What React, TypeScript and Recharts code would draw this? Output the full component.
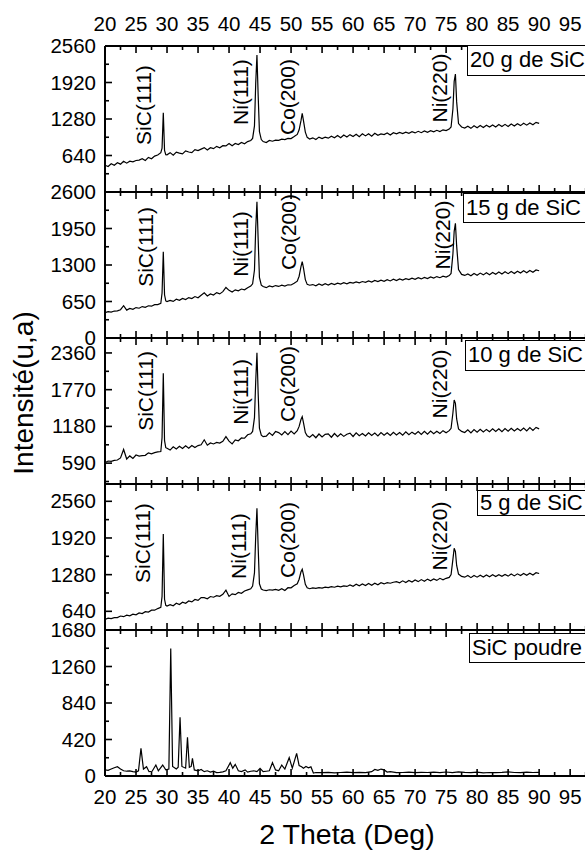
import React from 'react';
import { LineChart, Line, XAxis, YAxis, ReferenceDot } from 'recharts';

// 2-theta grid shared by the four coated samples (finer around the peaks)
const coatAngles = [
  20, 20.5, 21, 21.5, 22, 22.5, 23, 23.5, 24, 24.5, 25, 25.5, 26, 26.5, 27, 27.5, 28, 28.5,
  29, 29.2, 29.4, 29.6, 29.8,
  30, 30.5, 31, 31.5, 32, 32.5, 33, 33.5, 34, 34.5, 35, 35.5, 36, 36.5, 37, 37.5, 38, 38.5, 39, 39.5,
  40, 40.5, 41, 41.5, 42, 42.5, 43, 43.5,
  43.8, 44.1, 44.3, 44.5, 44.7, 44.9, 45.2, 45.5,
  46, 46.5, 47, 47.5, 48, 48.5, 49, 49.5, 50, 50.5, 51,
  51.3, 51.6, 51.8, 52, 52.3, 52.6,
  53, 53.5, 54, 54.5, 55, 55.5, 56, 56.5, 57, 57.5, 58, 58.5, 59, 59.5, 60, 60.5, 61, 61.5, 62, 62.5,
  63, 63.5, 64, 64.5, 65, 65.5, 66, 66.5, 67, 67.5, 68, 68.5, 69, 69.5, 70, 70.5, 71, 71.5, 72, 72.5,
  73, 73.5, 74, 74.5, 75, 75.5,
  75.8, 76.1, 76.3, 76.5, 76.7, 77, 77.5,
  78, 78.5, 79, 79.5, 80, 80.5, 81, 81.5, 82, 82.5, 83, 83.5, 84, 84.5, 85, 85.5, 86, 86.5, 87, 87.5,
  88, 88.5, 89, 89.5, 90,
];

const sic20 = [
  470, 448, 496, 470, 512, 488, 540, 506, 540, 530, 552, 560, 584, 552, 606, 582, 630, 648,
  688, 770, 1390, 730, 655,
  652, 690, 644, 700, 682, 668, 720, 702, 690, 744, 726, 752, 778, 736, 776, 760, 800, 776, 812, 808,
  852, 812, 850, 832, 868, 846, 884, 904,
  940, 1160, 1900, 2401, 1680, 1060, 920, 884,
  866, 904, 890, 910, 906, 926, 920, 940, 936, 972, 1010,
  1090, 1250, 1380, 1250, 1050, 958,
  930, 950, 920, 962, 936, 960, 944, 978, 952, 990, 950, 998, 964, 1006, 972, 1012, 970, 1020, 984, 1022,
  980, 1030, 994, 1018, 1008, 1034, 1000, 1040, 1020, 1046, 1024, 1050, 1030, 1058, 1036, 1064, 1040, 1070, 1048, 1074,
  1054, 1082, 1060, 1090, 1076, 1104,
  1140, 1460, 1940, 2068, 1580, 1200, 1140,
  1120, 1152, 1116, 1160, 1128, 1166, 1132, 1170, 1140, 1176, 1140, 1182, 1148, 1186, 1150, 1192, 1156, 1198, 1164, 1204,
  1172, 1210, 1180, 1222, 1204,
];

const sic15 = [
  450, 470, 462, 480, 484, 504, 575, 496, 526, 512, 542, 530, 560, 546, 574, 566, 594, 596,
  616, 800, 1537, 770, 660,
  648, 670, 652, 690, 670, 704, 684, 720, 702, 738, 716, 760, 805, 748, 784, 766, 808, 786, 826, 900,
  848, 818, 858, 840, 872, 858, 896, 925,
  965, 1210, 1950, 2428, 1740, 1080, 942, 916,
  896, 926, 912, 934, 918, 940, 926, 948, 944, 974, 1012,
  1100, 1270, 1359, 1250, 1040, 955,
  940, 952, 930, 962, 938, 966, 944, 972, 952, 976, 960, 984, 966, 990, 978, 1000, 982, 1006, 992, 1016,
  996, 1024, 1004, 1030, 1010, 1040, 1016, 1046, 1024, 1052, 1032, 1058, 1040, 1066, 1046, 1074, 1052, 1080, 1060, 1088,
  1068, 1094, 1074, 1100, 1086, 1112,
  1150, 1500, 1900, 2043, 1640, 1220, 1132,
  1114, 1142, 1110, 1150, 1118, 1156, 1124, 1162, 1128, 1168, 1136, 1174, 1140, 1180, 1146, 1184, 1150, 1190, 1156, 1196,
  1162, 1202, 1170, 1212, 1198,
];

const sic10 = [
  598, 624, 618, 634, 640, 674, 810, 656, 706, 666, 720, 704, 712, 716, 756, 740, 758, 770,
  776, 1000, 2033, 950, 838,
  828, 800, 852, 818, 860, 824, 868, 830, 874, 840, 872, 886, 965, 878, 914, 898, 922, 912, 940, 1015,
  944, 900, 962, 950, 994, 990, 1046, 1062,
  1100, 1320, 1900, 2364, 1700, 1150, 1040, 1015,
  1024, 1076, 1036, 1098, 1080, 1044, 1096, 1048, 1104, 1058, 1112,
  1180, 1290, 1336, 1240, 1080, 1030,
  1005, 1048, 998, 1058, 1010, 1052, 1060, 1006, 1066, 1016, 1060, 1020, 1054, 1072, 1018, 1076, 1032, 1066, 1026, 1078,
  1036, 1072, 1028, 1082, 1038, 1076, 1034, 1086, 1044, 1080, 1038, 1092, 1046, 1088, 1054, 1096, 1050, 1102, 1056, 1106,
  1064, 1102, 1066, 1112, 1078, 1112,
  1150, 1400, 1604, 1550, 1300, 1140, 1100,
  1082, 1124, 1076, 1130, 1086, 1134, 1092, 1132, 1096, 1140, 1100, 1142, 1096, 1146, 1104, 1150, 1106, 1146, 1112, 1154,
  1108, 1160, 1116, 1164, 1140,
];

const sic5 = [
  500, 520, 514, 530, 530, 558, 546, 574, 562, 590, 580, 612, 602, 634, 628, 660, 660, 688,
  710, 900, 1989, 850, 745,
  733, 756, 738, 780, 758, 800, 780, 820, 804, 846, 830, 880, 878, 860, 898, 886, 912, 902, 936, 1010,
  900, 944, 930, 970, 954, 996, 1015, 1032,
  1080, 1310, 1950, 2438, 1740, 1120, 1030, 1012,
  1000, 1016, 1010, 1024, 1008, 1036, 1004, 1052, 1050, 1092, 1120,
  1200, 1330, 1373, 1280, 1110, 1050,
  1034, 1048, 1040, 1052, 1046, 1062, 1054, 1070, 1060, 1078, 1066, 1084, 1074, 1100, 1078, 1112, 1084, 1118, 1090, 1126,
  1096, 1132, 1104, 1138, 1118, 1140, 1130, 1148, 1157, 1138, 1172, 1144, 1180, 1150, 1186, 1158, 1194, 1166, 1202, 1174,
  1206, 1180, 1216, 1190, 1216, 1232,
  1280, 1550, 1740, 1680, 1440, 1290, 1250,
  1236, 1264, 1228, 1266, 1236, 1270, 1240, 1274, 1244, 1278, 1246, 1280, 1250, 1284, 1254, 1290, 1258, 1294, 1264, 1300,
  1268, 1304, 1274, 1314, 1300,
];

const powderAngles = [
  20, 20.5, 21, 21.5, 22, 22.5, 23, 23.5, 24, 24.5, 25,
  25.4, 25.8, 26.2, 26.7, 27.1, 27.6, 28.2, 28.6, 29.3, 29.8,
  30.3, 30.6, 30.9, 31.5, 31.8, 32.1, 32.4, 33, 33.3, 33.6, 33.9, 34.1, 34.4,
  35, 35.5, 36, 36.5, 37, 37.5, 38, 38.5, 39, 39.5,
  40.2, 40.6, 41, 41.5, 42, 42.6, 43, 43.5, 44, 44.5,
  45, 45.5, 46, 46.5, 47, 47.5, 48, 48.5, 49, 49.7,
  50.2, 50.9, 51.3, 51.7, 52, 52.4, 52.8, 53.2, 53.6, 54,
  55, 56, 57, 58, 59, 60, 61, 62, 63,
  63.5, 64, 64.5, 65, 65.5, 66,
  67, 68, 69, 70, 71, 72, 73, 74, 75, 76, 77, 78, 79, 80, 81, 82, 83, 84, 85, 86, 87, 88, 89, 90,
];

const powderCounts = [
  70, 65, 80, 95, 107, 80, 60, 55, 58, 50, 45,
  60, 318, 80, 107, 50, 55, 126, 60, 126, 70,
  80, 1468, 110, 80, 100, 675, 110, 90, 445, 100, 110, 203, 70,
  60, 75, 50, 60, 45, 55, 40, 42, 48, 60,
  153, 90, 134, 60, 50, 70, 45, 55, 60, 50,
  88, 50, 55, 60, 153, 70, 60, 126, 80, 211,
  90, 261, 120, 107, 90, 110, 95, 105, 34, 40,
  38, 42, 36, 40, 45, 38, 42, 40, 50,
  75, 65, 80, 70, 45, 50,
  38, 40, 45, 38, 42, 40, 44, 38, 46, 40, 48, 42, 38, 45, 36, 40, 38, 42, 48, 40, 38, 44, 40, 42,
];

const xTicks = [
  20, 22.5, 25, 27.5, 30, 32.5, 35, 37.5, 40, 42.5, 45, 47.5, 50, 52.5, 55, 57.5,
  60, 62.5, 65, 67.5, 70, 72.5, 75, 77.5, 80, 82.5, 85, 87.5, 90, 92.5, 95, 97.5,
];

const peakNames = ['SiC(111)', 'Ni(111)', 'Co(200)', 'Ni(220)'];

const panels = [
  {
    name: '20 g de SiC', angles: coatAngles, counts: sic20, domain: [0, 2560],
    major: [640, 1280, 1920, 2560], minor: [320, 960, 1600, 2240],
    peakAt: [[26.2, 1525], [41.9, 1753], [49.5, 1665], [74.0, 1823]],
  },
  {
    name: '15 g de SiC', angles: coatAngles, counts: sic15, domain: [0, 2600],
    major: [0, 650, 1300, 1950, 2600], minor: [325, 975, 1625, 2275],
    peakAt: [[26.6, 1621], [41.8, 1674], [49.6, 1888], [74.35, 1834]],
  },
  {
    name: '10 g de SiC', angles: coatAngles, counts: sic10, domain: [255, 2600],
    major: [590, 1180, 1770, 2360], minor: [295, 885, 1475, 2065],
    peakAt: [[26.6, 1749], [41.8, 1733], [49.5, 1861], [74.0, 1861]],
  },
  {
    name: '5 g de SiC', angles: coatAngles, counts: sic5, domain: [314, 2862],
    major: [640, 1280, 1920, 2560], minor: [960, 1600, 2240],
    peakAt: [[26.1, 1832], [41.6, 1780], [49.4, 1885], [74.0, 1954]],
  },
  {
    name: 'SiC poudre', angles: powderAngles, counts: powderCounts, domain: [0, 1680],
    major: [0, 420, 840, 1260, 1680], minor: [210, 630, 1050, 1470],
    peakAt: [],
  },
];

// layout
const FONT = '"Liberation Sans", Arial, Helvetica, sans-serif';
const W = 600;
const PLOT_RIGHT = 590;
const X_DOMAIN = [20, 98.2];
const PANEL_H = 146;
const PANEL_TOPS = [46, 192, 338, 484, 630];
const TICK_FONT = 20.5;
const BOXES = [
  { left: 467, top: 45, h: 31 },
  { left: 463, top: 193, h: 30 },
  { left: 465, top: 340, h: 31 },
  { left: 477, top: 490, h: 26 },
  { left: 469, top: 633, h: 30 },
];

const xTick = (side: 'top' | 'bottom', labelled: boolean) => (p: any) => {
  const v = p.payload.value;
  const major = v % 5 === 0;
  const len = major ? 7 : 4;
  const dir = side === 'top' ? 1 : -1;
  return (
    <g>
      <path d={`M${p.x},${p.y}v${dir * len}`} stroke="#000" strokeWidth={1.6} fill="none" />
      {labelled && major && v <= 95 && (
        <text x={p.x} y={side === 'top' ? p.y - 15 : p.y + 28} textAnchor="middle"
          fontSize={TICK_FONT} fontFamily={FONT} fill="#000">{v}</text>
      )}
    </g>
  );
};

const yTick = (major: number[]) => (p: any) => {
  const v = p.payload.value;
  const isMajor = major.includes(v);
  return (
    <g>
      <path d={`M${p.x},${p.y}h${isMajor ? 7 : 4}`} stroke="#000" strokeWidth={1.6} fill="none" />
      {isMajor && (
        <text x={p.x - 9} y={p.y} dy={7} textAnchor="end" fontSize={TICK_FONT} fontFamily={FONT} fill="#000">{v}</text>
      )}
    </g>
  );
};

const PeakLabel = (text: string) => (p: any) => (
  <text x={p.cx} y={p.cy} transform={`rotate(-90 ${p.cx} ${p.cy})`} textAnchor="middle"
    dominantBaseline="central" fontSize={21} fontFamily={FONT} fill="#000">{text}</text>
);

export default function App() {
  return (
    <div style={{ position: 'absolute', left: 0, top: 0, width: 585, height: 850, overflow: 'hidden', background: '#fff', fontFamily: FONT }}>
      {panels.map((panel, i) => {
        const mt = i === 0 ? 46 : 12;
        const mb = i === 4 ? 74 : 12;
        const rows = panel.angles.map((a, k) => ({ a, v: panel.counts[k] }));
        return (
          <div key={panel.name} style={{ position: 'absolute', left: 0, top: PANEL_TOPS[i] - mt }}>
            <LineChart width={W} height={mt + PANEL_H + mb} data={rows}
              margin={{ top: mt - 1, right: W - PLOT_RIGHT, bottom: mb - 1, left: 0 }}>
              <XAxis xAxisId="top" orientation="top" type="number" dataKey="a" domain={X_DOMAIN}
                ticks={xTicks} interval={0} height={1} tickSize={0} tickMargin={0} tickLine={false}
                tick={xTick('top', i === 0)} axisLine={{ stroke: '#000', strokeWidth: 2 }} allowDataOverflow />
              <XAxis xAxisId="bottom" orientation="bottom" type="number" dataKey="a" domain={X_DOMAIN}
                ticks={xTicks} interval={0} height={1} tickSize={0} tickMargin={0} tickLine={false}
                tick={xTick('bottom', i === 4)} axisLine={{ stroke: '#000', strokeWidth: 2 }} allowDataOverflow />
              <YAxis yAxisId="y" type="number" domain={panel.domain} width={105}
                ticks={[...panel.major, ...panel.minor].sort((a, b) => a - b)} interval={0}
                tickSize={0} tickMargin={0} tickLine={false} tick={yTick(panel.major)}
                axisLine={{ stroke: '#000', strokeWidth: 2 }} allowDataOverflow />
              <Line xAxisId="bottom" yAxisId="y" type="linear" dataKey="v" stroke="#000" strokeWidth={1.2}
                dot={false} isAnimationActive={false} />
              {panel.peakAt.map((pk, k) => (
                <ReferenceDot key={peakNames[k]} xAxisId="bottom" yAxisId="y" x={pk[0]} y={pk[1]} r={0}
                  shape={PeakLabel(peakNames[k])} />
              ))}
            </LineChart>
          </div>
        );
      })}
      {panels.map((panel, i) => (
        <div key={'box' + i} style={{
          position: 'absolute', left: BOXES[i].left, top: BOXES[i].top, width: 140, height: BOXES[i].h,
          boxSizing: 'border-box', border: '1.5px solid #000', background: '#fff',
          fontSize: 22, lineHeight: `${BOXES[i].h - 3}px`, paddingLeft: 2, whiteSpace: 'nowrap', color: '#000',
        }}>{panel.name}</div>
      ))}
      <svg width={585} height={850} style={{ position: 'absolute', left: 0, top: 0, pointerEvents: 'none' }}>
        <text x={33} y={393} transform="rotate(-90 33 393)" textAnchor="middle" fontSize={28} fontFamily={FONT} fill="#000">Intensité(u,a)</text>
        <text x={347} y={844} textAnchor="middle" fontSize={28.5} fontFamily={FONT} fill="#000">2 Theta (Deg)</text>
      </svg>
    </div>
  );
}
